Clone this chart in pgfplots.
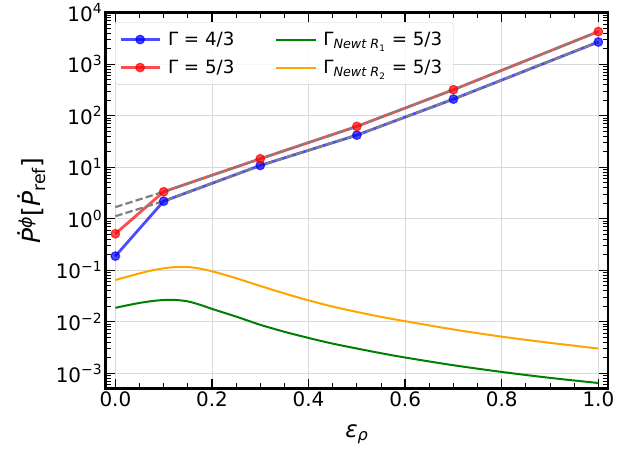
\documentclass[border=0pt]{standalone}
\usepackage{fontspec}
\setmainfont{DejaVu Sans}
\usepackage{pgfplots}
\pgfplotsset{compat=1.18}
\definecolor{mplgreen}{HTML}{008000}
\definecolor{mplorange}{HTML}{FFA500}
\definecolor{mplgray}{HTML}{808080}
\begin{document}
\begin{tikzpicture}
\begin{axis}[
  name=ax,
  scale only axis,
  width=502.3bp, height=375.6bp,
  xmin=-0.02, xmax=1.02,
  ymode=log, ymin=5.1e-4, ymax=1e4,
  xtick={0,0.2,0.4,0.6,0.8,1.0},
  xticklabels={0.0,0.2,0.4,0.6,0.8,1.0},
  minor x tick num=3,
  ytick={1e-3,1e-2,1e-1,1,10,100,1000,10000},
  yticklabels={10\textsuperscript{−3},10\textsuperscript{−2},10\textsuperscript{−1},10\textsuperscript{0},10\textsuperscript{1},10\textsuperscript{2},10\textsuperscript{3},10\textsuperscript{4}},
  minor ytick={6e-4,7e-4,8e-4,9e-4,
    2e-3,3e-3,4e-3,5e-3,6e-3,7e-3,8e-3,9e-3,
    2e-2,3e-2,4e-2,5e-2,6e-2,7e-2,8e-2,9e-2,
    2e-1,3e-1,4e-1,5e-1,6e-1,7e-1,8e-1,9e-1,
    2,3,4,5,6,7,8,9,
    20,30,40,50,60,70,80,90,
    200,300,400,500,600,700,800,900,
    2000,3000,4000,5000,6000,7000,8000,9000},
  tick align=inside,
  xtick pos=both, ytick pos=both,
  major tick length=9bp, minor tick length=5bp,
  every major tick/.style={line width=1.4bp, black},
  every minor tick/.style={line width=0.9bp, black},
  axis line style={line width=2.8bp},
  tick label style={font=\fontsize{20}{24}\selectfont},
  grid=major,
  major grid style={line width=0.8bp, black!15},
  xlabel={\textit{ε}\textsubscript{\textit{ρ}}},
  ylabel={\textit{Ṗ}\textsuperscript{\textit{ϕ}}[\textit{Ṗ}\textsubscript{ref}]},
  xlabel style={font=\fontsize{23}{27}\selectfont, at={(axis description cs:0.5,-0.122)}, anchor=center},
  ylabel style={font=\fontsize{25}{29}\selectfont, at={(axis description cs:-0.147,0.5)}, anchor=center},
  legend columns=2,
  legend style={at={(axis description cs:0.0186,0.9744)}, anchor=north west,
    draw=black!20, rounded corners=3bp, fill=white, fill opacity=0.8, text opacity=1,
    font=\fontsize{18.3}{22}\selectfont, inner xsep=4bp, inner ysep=3bp,
    nodes={inner xsep=7bp, inner ysep=6.5bp},
    /tikz/every even column/.append style={column sep=34bp}},
  legend cell align=left,
  legend image code/.code={\draw[mark repeat=2,mark phase=2] plot coordinates {(0bp,0bp) (19.5bp,0bp) (39bp,0bp)};},
]
\addplot[color=blue, opacity=0.7, line width=2.8bp, mark=*, mark size=4.3bp, mark options={solid, line width=1.2bp}]
  coordinates {(0,0.188) (0.1,2.19) (0.3,10.8) (0.5,42) (0.7,210) (1.0,2700)};
\addlegendentry{Γ = 4/3}
\addplot[color=mplgreen, line width=2bp, smooth]
  coordinates {(0,0.01862) (0.025,0.02089) (0.05,0.02317) (0.075,0.02512) (0.1,0.02642) (0.125,0.02642) (0.15,0.02483) (0.175,0.02138) (0.2,0.01778) (0.225,0.01496) (0.25,0.01259) (0.275,0.01047) (0.3,0.00871) (0.35,0.00638) (0.4,0.00484) (0.45,0.00376) (0.5,0.00302) (0.55,0.00245) (0.6,0.00202) (0.7,0.00143) (0.8,0.00106) (0.9,0.000813) (1.0,0.000646)};
\addlegendentry{Γ\textsubscript{\textit{Newt R}\textsubscript{1}} = 5/3}
\addplot[color=red, opacity=0.7, line width=2.8bp, mark=*, mark size=4.3bp, mark options={solid, line width=1.2bp}]
  coordinates {(0,0.51) (0.1,3.34) (0.3,14.6) (0.5,62) (0.7,320) (1.0,4300)};
\addlegendentry{Γ = 5/3}
\addplot[color=mplorange, line width=2bp, smooth]
  coordinates {(0,0.0646) (0.025,0.0750) (0.05,0.0867) (0.075,0.0989) (0.1,0.1089) (0.125,0.1153) (0.15,0.1153) (0.175,0.1076) (0.2,0.0955) (0.225,0.0822) (0.25,0.0700) (0.275,0.0589) (0.3,0.0495) (0.35,0.0355) (0.4,0.0260) (0.45,0.0197) (0.5,0.0155) (0.55,0.01245) (0.6,0.01023) (0.7,0.00708) (0.8,0.00513) (0.9,0.00389) (1.0,0.00302)};
\addlegendentry{Γ\textsubscript{\textit{Newt R}\textsubscript{2}} = 5/3}
\addplot[forget plot, color=mplgray, line width=2.2bp, dash pattern=on 7.4bp off 3.2bp]
  coordinates {(0,1.12) (0.1,2.19) (0.3,10.8) (0.5,42) (0.7,210) (1.0,2700)};
\addplot[forget plot, color=mplgray, line width=2.2bp, dash pattern=on 7.4bp off 3.2bp]
  coordinates {(0,1.68) (0.1,3.34) (0.3,14.6) (0.5,62) (0.7,320) (1.0,4300)};
\end{axis}
\pgfresetboundingbox
\path[use as bounding box] ([xshift=-105.7bp,yshift=-65.7bp]ax.south west) rectangle ([xshift=14bp,yshift=12.7bp]ax.north east);
\end{tikzpicture}
\end{document}
